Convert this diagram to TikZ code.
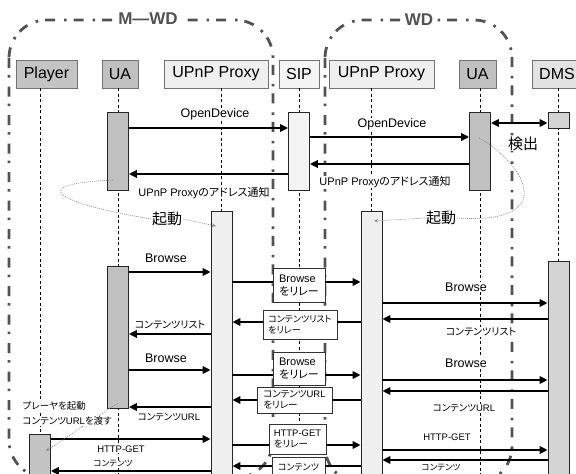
\documentclass[tikz,border=0pt]{standalone}
\usepackage{fontspec}
\setmainfont{Liberation Sans}
\newfontfamily\jpfont[RawFeature=+palt]{Noto Sans CJK JP}
\newcommand{\jtxt}[1]{{\jpfont #1}}
\usetikzlibrary{arrows.meta}
\definecolor{uagray}{RGB}{192,192,192}
\definecolor{plgray}{RGB}{196,196,196}
\definecolor{pxgray}{RGB}{239,239,239}
\definecolor{sipgray}{RGB}{244,244,244}
\definecolor{dmsgray}{RGB}{226,226,226}
\definecolor{dmsact}{RGB}{212,212,212}
\definecolor{framegray}{RGB}{82,82,82}

\begin{document}
\begin{tikzpicture}[x=1pt, y=-1pt,
  head/.style={draw=black!55, line width=0.8pt, inner sep=0pt, minimum height=28pt, font=\fontsize{16}{18}\selectfont},
  life/.style={line width=0.7pt, dash pattern=on 3pt off 2.5pt},
  act/.style={draw=black!85, line width=0.8pt, inner sep=0pt, minimum width=21pt},
  msg/.style={line width=2.7pt, -{Triangle[length=8pt,width=7.5pt]}},
  bar/.style={line width=2.7pt},
  relay/.style={draw=black!80, fill=white, line width=0.9pt, inner sep=0pt, align=left},
  lbl/.style={fill=white, inner sep=0.5pt},
  biglbl/.style={lbl, font=\fontsize{12.5}{14}\selectfont},
  midlbl/.style={lbl, font=\fontsize{11}{13}\selectfont},
  smalllbl/.style={lbl, font=\fontsize{9.5}{11}\selectfont},
  kanji/.style={lbl, font=\jpfont\fontsize{15}{17}\selectfont},
  kido/.style={draw=black!45, line width=0.6pt, dash pattern=on 1pt off 1pt},
  frame/.style={draw=framegray, line width=2.8pt, dash pattern=on 10pt off 7pt on 2.5pt off 9pt, rounded corners=38pt},
  frametitle/.style={fill=white, text=framegray, inner sep=3pt, font=\bfseries\fontsize{17}{19}\selectfont}]
  \useasboundingbox (0,0) rectangle (576,474);
  \clip (0,0) rectangle (576,474);

  % domains
  \draw[frame] (9,20) rectangle (273,478);
  \draw[frame] (325,20) rectangle (512,484);
  \node[frametitle] (mwd) at (148,19) {M—WD};
  \node[frametitle] (wd) at (419,20) {WD};

  % heads
  \node[head, fill=plgray, minimum width=61pt] (plH) at (46.5,74) {Player};
  \node[head, fill=uagray, minimum width=36pt] (uaLH) at (120,74) {UA};
  \node[head, fill=pxgray, minimum width=104pt] (upLH) at (216,74) {UPnP Proxy};
  \node[head, fill=sipgray, minimum width=40pt] (sipH) at (299,74) {SIP};
  \node[head, fill=pxgray, minimum width=105pt] (upRH) at (381.5,74) {UPnP Proxy};
  \node[head, fill=uagray, minimum width=37pt] (uaRH) at (477.5,74) {UA};
  \node[head, fill=dmsgray, minimum width=50pt] (dmsH) at (557,74) {DMS};

  % lifelines
  \coordinate (plX) at (40,0);
  \coordinate (uaLX) at (118,0);
  \coordinate (upLX) at (221.5,0);
  \coordinate (sipX) at (299,0);
  \coordinate (upRX) at (371.5,0);
  \coordinate (uaRX) at (480,0);
  \coordinate (dmsX) at (558.5,0);
  \foreach \h/\x in {plH/plX, uaLH/uaLX, upLH/upLX, sipH/sipX, upRH/upRX, uaRH/uaRX, dmsH/dmsX}
    \draw[life] (\h.south -| \x) -- (\x |- 0,480);

  % activations
  \node[act, fill=uagray, minimum height=78pt] (uaLa) at (uaLX |- 0,151) {};
  \node[act, fill=uagray, minimum height=142pt] (uaLb) at (uaLX |- 0,337) {};
  \node[act, fill=sipgray, minimum height=78pt] (sipA) at (sipX |- 0,151) {};
  \node[act, fill=uagray, minimum height=78pt] (uaRa) at (uaRX |- 0,151) {};
  \node[act, fill=dmsact, minimum height=16pt] (dmsA) at (dmsX |- 0,120.5) {};
  \node[act, fill=pxgray, minimum height=280pt] (upLa) at (upLX |- 0,351) {};
  \node[act, fill=pxgray, minimum height=280pt] (upRa) at (upRX |- 0,351) {};
  \node[act, fill=dmsact, minimum height=230pt] (dmsB) at (dmsX |- 0,376) {};
  \node[act, fill=plgray, minimum height=56pt] (plA) at (plX |- 0,462) {};

  % OpenDevice and address
  \draw[msg] (uaLa.east |- 0,128) -- (sipA.west |- 0,128);
  \draw[msg] (sipA.east |- 0,137) -- (uaRa.west |- 0,137);
  \draw[msg] (uaRa.west |- 0,164) -- (sipA.east |- 0,164);
  \draw[msg] (sipA.west |- 0,174) -- (uaLa.east |- 0,174);
  \draw[msg, {Triangle[length=8pt,width=7.5pt]}-{Triangle[length=8pt,width=7.5pt]}] (uaRa.east |- 0,123) -- (dmsA.west |- 0,123);

  % first Browse
  \draw[msg] (uaLb.east |- 0,272) -- (upLa.west |- 0,272);
  \node[relay, minimum width=52pt, minimum height=34pt, font=\fontsize{11}{13}\selectfont] (r1) at (299,285) {Browse\\\jtxt{をリレー}};
  \draw[bar] (upLa.east |- 0,282) -- (r1.west |- 0,282);
  \draw[msg] (r1.east |- 0,282) -- (upRa.west |- 0,282);
  \draw[msg] (upRa.east |- 0,303) -- (dmsB.west |- 0,303);
  \draw[msg] (dmsB.west |- 0,319) -- (upRa.east |- 0,319);
  \node[relay, minimum width=74pt, minimum height=29pt, font=\jpfont\fontsize{9}{11}\selectfont] (r2) at (300,324.5) {コンテンツリスト\\をリレー};
  \draw[bar] (upRa.west |- 0,322) -- (r2.east |- 0,322);
  \draw[msg] (r2.west |- 0,322) -- (upLa.east |- 0,322);
  \draw[msg] (upLa.west |- 0,334) -- (uaLb.east |- 0,334);

  % second Browse
  \draw[msg] (uaLb.east |- 0,370) -- (upLa.west |- 0,370);
  \node[relay, minimum width=52pt, minimum height=33pt, font=\fontsize{11}{13}\selectfont] (r3) at (299,368.5) {Browse\\\jtxt{をリレー}};
  \draw[bar] (upLa.east |- 0,375) -- (r3.west |- 0,375);
  \draw[msg] (r3.east |- 0,375) -- (upRa.west |- 0,375);
  \draw[msg] (upRa.east |- 0,380) -- (dmsB.west |- 0,380);
  \draw[msg] (dmsB.west |- 0,391) -- (upRa.east |- 0,391);
  \node[relay, minimum width=75pt, minimum height=26pt, font=\fontsize{9.5}{11}\selectfont] (r4) at (294.5,400) {\jtxt{コンテンツ}URL\\\jtxt{をリレー}};
  \draw[bar] (upRa.west |- 0,400) -- (r4.east |- 0,400);
  \draw[msg] (r4.west |- 0,400) -- (upLa.east |- 0,400);
  \draw[msg] (upLa.west |- 0,407) -- (uaLb.east |- 0,407);

  % HTTP-GET
  \draw[msg] (plA.east |- 0,439) -- (upLa.west |- 0,439);
  \node[relay, minimum width=57pt, minimum height=30pt, font=\fontsize{9.5}{11}\selectfont] (r5) at (297.5,439) {HTTP-GET\\\jtxt{をリレー}};
  \draw[bar] (upLa.east |- 0,445) -- (r5.west |- 0,445);
  \draw[msg] (r5.east |- 0,445) -- (upRa.west |- 0,445);
  \draw[msg] (upRa.east |- 0,450) -- (dmsB.west |- 0,450);
  \draw[msg] (dmsB.west |- 0,460) -- (upRa.east |- 0,460);
  \node[relay, minimum width=53pt, minimum height=32pt, font=\jpfont\fontsize{9}{11}\selectfont] (r6) at (298.5,473) {コンテンツ\\\phantom{をリレー}};
  \draw[bar] (upRa.west |- 0,466) -- (r6.east |- 0,466);
  \draw[msg] (r6.west |- 0,466) -- (upLa.east |- 0,466);
  \draw[msg] (upLa.west |- 0,471) -- (plA.east |- 0,471);

  % start-up hints
  \coordinate (kidoLs) at (113,180);
  \coordinate (kidoLe) at (216,226);
  \coordinate (kidoRs) at (479,138);
  \coordinate (kidoRe) at (374,221);
  \coordinate (plStart) at (118,403);
  \coordinate (plEnd) at (46,451);
  \node[kanji] (kidoL) at (167,219) {起動};
  \node[kanji] (kidoR) at (441,218) {起動};
  \draw[kido] (kidoLs) .. controls (25,184) and (55,203) .. (kidoL.west);
  \draw[kido, -{Stealth[length=4pt,width=3.5pt]}] (kidoL.east) -- (kidoLe);
  \draw[kido] (kidoRs) .. controls (520,160) and (565,225) .. (kidoR.east);
  \draw[kido, -{Stealth[length=4pt,width=3.5pt]}] (kidoR.west) -- (kidoRe);
  \draw[kido, -{Stealth[length=4pt,width=3.5pt]}] (plStart) -- (plEnd);

  % labels
  \node[biglbl] (od1) at (215,114) {OpenDevice};
  \node[biglbl] (od2) at (392,124) {OpenDevice};
  \node[midlbl] (addrR) at (385,182) {UPnP Proxy\jtxt{のアドレス通知}};
  \node[midlbl] (addrL) at (204,193) {UPnP Proxy\jtxt{のアドレス通知}};
  \node[kanji] (detect) at (523,144) {検出};
  \node[biglbl] (brL1) at (166,258) {Browse};
  \node[biglbl] (brR1) at (466,287) {Browse};
  \node[smalllbl, font=\jpfont\fontsize{10}{12}\selectfont] (listR) at (481,332) {コンテンツリスト};
  \node[smalllbl, font=\jpfont\fontsize{10}{12}\selectfont] (listL) at (170,325) {コンテンツリスト};
  \node[biglbl] (brL2) at (166,358) {Browse};
  \node[biglbl] (brR2) at (466,363) {Browse};
  \node[smalllbl] (urlR) at (464,408) {\jtxt{コンテンツ}URL};
  \node[smalllbl] (urlL) at (169,417) {\jtxt{コンテンツ}URL};
  \node[smalllbl, anchor=west] (pl1) at (22,406) {\jtxt{プレーヤを起動}};
  \node[smalllbl, anchor=west] (pl2) at (22,421) {\jtxt{コンテンツ}URL\jtxt{を渡す}};
  \node[smalllbl] (httpL) at (121,449) {HTTP-GET};
  \node[smalllbl] (httpR) at (447,437) {HTTP-GET};
  \node[smalllbl, font=\jpfont\fontsize{8.5}{10}\selectfont] (contR) at (441,468) {コンテンツ};
  \node[smalllbl, font=\jpfont\fontsize{8.5}{10}\selectfont] (contL) at (113,464) {コンテンツ};
\end{tikzpicture}
\end{document}
